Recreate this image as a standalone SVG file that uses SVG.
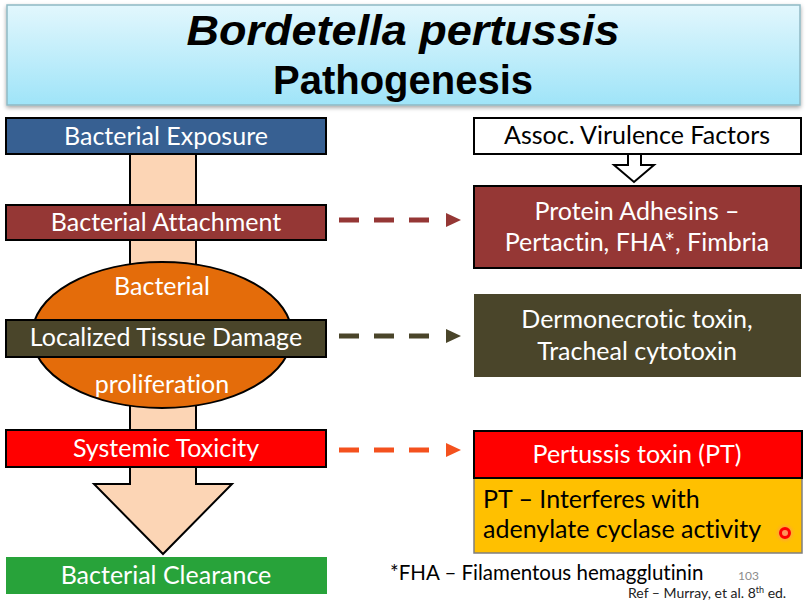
<svg xmlns="http://www.w3.org/2000/svg" width="806" height="600" viewBox="0 0 806 600">
<defs>
<linearGradient id="tg" x1="0" y1="0" x2="0" y2="1">
<stop offset="0" stop-color="#e2f7fd"/>
<stop offset="1" stop-color="#9fe4f8"/>
</linearGradient>
<radialGradient id="glow">
<stop offset="0.4" stop-color="#ff8080" stop-opacity="0.7"/>
<stop offset="1" stop-color="#ffc000" stop-opacity="0"/>
</radialGradient>
<filter id="sh" x="-5%" y="-10%" width="110%" height="130%">
<feDropShadow dx="0" dy="2" stdDeviation="2" flood-color="#000" flood-opacity="0.35"/>
</filter>
</defs>
<style>
text{font-variant-ligatures:none}
.t{font-family:Lato,"Open Sans","Liberation Sans",sans-serif;font-size:25px;text-anchor:middle}
.s{text-anchor:start}
.w{fill:#ffffff}
.k{fill:#000000}
.box{stroke:#000;stroke-width:2}
.dash{stroke-width:5;stroke-dasharray:20 15;fill:none}
.n{font-family:Lato,"Open Sans","Liberation Sans",sans-serif}
</style>
<rect x="0" y="0" width="806" height="600" fill="#ffffff"/>

<g id="title">
<rect x="7" y="5" width="793" height="100" fill="url(#tg)" stroke="#8fb9c4" stroke-width="1.5" filter="url(#sh)"/>
<text x="403" y="45" font-family="'Liberation Sans',Arial,sans-serif" font-weight="bold" font-style="italic" font-size="42" text-anchor="middle" textLength="433" lengthAdjust="spacingAndGlyphs">Bordetella pertussis</text>
<text x="403" y="94" font-family="'Liberation Sans',Arial,sans-serif" font-weight="bold" font-size="40" text-anchor="middle">Pathogenesis</text>
</g>

<g id="flow-arrow">
<polygon points="130,154 196,154 196,484 232,484 163,554 94,484 130,484" fill="#fcd5b5" stroke="#000" stroke-width="2"/>
</g>

<g id="proliferation">
<ellipse cx="162" cy="335" rx="130" ry="73" fill="#e46c0a" stroke="#000" stroke-width="2"/>
<text class="t w" x="162" y="295">Bacterial</text>
<text class="t w" x="162" y="393">proliferation</text>
</g>

<g id="exposure">
<rect class="box" x="6" y="118" width="320" height="36" fill="#376092"/>
<text class="t w" x="166" y="145">Bacterial Exposure</text>
</g>

<g id="attachment">
<rect class="box" x="6" y="205" width="320" height="35" fill="#953735"/>
<text class="t w" x="166" y="231">Bacterial Attachment</text>
</g>

<g id="damage">
<rect class="box" x="6" y="320" width="320" height="37" fill="#4a452a"/>
<text class="t w" x="166" y="346">Localized Tissue Damage</text>
</g>

<g id="toxicity">
<rect class="box" x="6" y="430" width="320" height="37" fill="#ff0000"/>
<text class="t w" x="166" y="457">Systemic Toxicity</text>
</g>

<g id="clearance">
<rect x="6" y="557" width="321" height="37" fill="#28a33a"/>
<text class="t w" x="166" y="584">Bacterial Clearance</text>
</g>

<g id="virulence-header">
<rect class="box" x="474" y="118" width="327" height="36" fill="#ffffff"/>
<text class="t k" x="637" y="144">Assoc. Virulence Factors</text>
<polygon points="628,154 641,154 641,165 654,165 634,182 614,165 628,165" fill="#ffffff" stroke="#000" stroke-width="2"/>
</g>

<g id="adhesins">
<rect class="box" x="474" y="186" width="327" height="82" fill="#953735"/>
<text class="t w" x="637" y="220">Protein Adhesins –</text>
<text class="t w" x="637" y="251">Pertactin, FHA*, Fimbria</text>
</g>

<g id="dermo">
<rect x="474" y="294" width="327" height="83" fill="#4a452a"/>
<text class="t w" x="637" y="328">Dermonecrotic toxin,</text>
<text class="t w" x="637" y="360">Tracheal cytotoxin</text>
</g>

<g id="ptx">
<rect x="474" y="478" width="328" height="75" fill="#ffc000" stroke="#7f7f7f" stroke-width="1.5"/>
<rect class="box" x="474" y="431" width="328" height="47" fill="#ff0000"/>
<text class="t w" x="637" y="463">Pertussis toxin (PT)</text>
<text class="t k s" x="483" y="508">PT – Interferes with</text>
<text class="t k s" x="483" y="538">adenylate cyclase activity</text>
<circle cx="785" cy="533" r="11" fill="url(#glow)"/>
<circle cx="785" cy="533" r="4.5" fill="none" stroke="#ff0000" stroke-width="3"/>
</g>

<g id="connectors">
<line class="dash" x1="339" y1="220" x2="430" y2="220" stroke="#953735"/>
<polygon points="446,213 461,220 446,227" fill="#953735"/>
<line class="dash" x1="339" y1="336" x2="430" y2="336" stroke="#4a452a"/>
<polygon points="446,329 461,336 446,343" fill="#4a452a"/>
<line class="dash" x1="339" y1="450" x2="430" y2="450" stroke="#f4511e"/>
<polygon points="446,443 461,450 446,457" fill="#f4511e"/>
</g>

<g id="notes">
<text class="n" x="390" y="580" font-size="20.5" fill="#000">*FHA – Filamentous hemagglutinin</text>
<text class="n" x="738" y="580" font-size="12" fill="#8c8c8c">103</text>
<text class="n" x="628" y="598" font-size="14" fill="#222">Ref – Murray, et al. 8<tspan font-size="9" dy="-5">th</tspan><tspan dy="5"> ed.</tspan></text>
</g>
</svg>
